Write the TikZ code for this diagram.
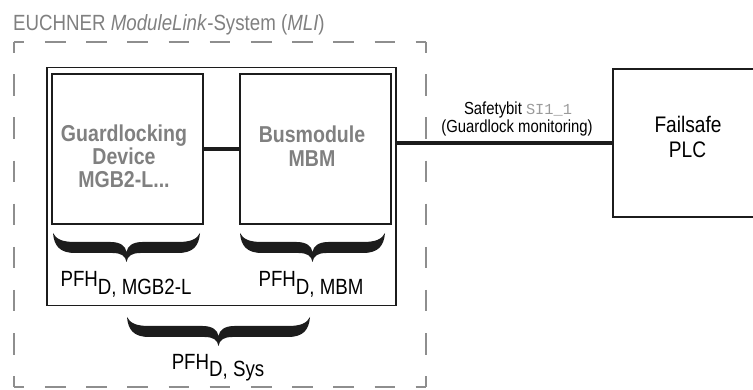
\documentclass[tikz,border=0pt]{standalone}
\usepackage{fontspec}
\setmainfont{Liberation Sans}[FakeStretch=0.85]
\newfontfamily\monof{Liberation Mono}
\usetikzlibrary{calc}
\definecolor{dashgray}{HTML}{8E8E8E}
\definecolor{txtgray}{HTML}{808080}
\definecolor{monogray}{HTML}{9A9A9A}
\definecolor{ink}{HTML}{1C1C1C}
\newcommand\pfhbrace[3]{%
  \pgfmathsetmacro\bm{(#1+#2)/2}%
  \fill[ink] (#1,#3) .. controls (#1+1,#3+13) and (#1+7,#3+20) .. (#1+22,#3+20)
    -- (\bm-14,#3+20) .. controls (\bm-5,#3+20) and (\bm-1,#3+23) .. (\bm,#3+29)
    .. controls (\bm+1,#3+23) and (\bm+5,#3+20) .. (\bm+14,#3+20)
    -- (#2-22,#3+20) .. controls (#2-7,#3+20) and (#2-1,#3+13) .. (#2,#3)
    .. controls (#2-3,#3+6) and (#2-9,#3+9) .. (#2-22,#3+9)
    -- (\bm+16,#3+9) .. controls (\bm+6,#3+9) and (\bm+1,#3+13) .. (\bm,#3+19)
    .. controls (\bm-1,#3+13) and (\bm-6,#3+9) .. (\bm-16,#3+9)
    -- (#1+22,#3+9) .. controls (#1+9,#3+9) and (#1+3,#3+6) .. (#1,#3) -- cycle;}
\begin{document}
\begin{tikzpicture}[x=1pt,y=-1pt,
  boxst/.style={draw=ink, line width=1.4pt, inner sep=0pt},
  conn/.style={draw=ink, line width=3.2pt},
  dside/.style={draw=dashgray, line width=1.5pt},
  lbl/.style={inner sep=0pt, anchor=base}]
\useasboundingbox (0,0) rectangle (753,390);
% title
\node[lbl, anchor=base west, text=txtgray, font=\fontsize{22}{26}\selectfont] (title) at (13,31)
  {EUCHNER \textit{ModuleLink}-System (\textit{MLI})};
% dashed system boundary
\draw[dside, dash pattern=on 20.6pt off 20.6pt, dash phase=10.3pt] (14,42) -- (426,42);
\draw[dside, dash pattern=on 20.6pt off 20.6pt, dash phase=10.3pt] (14,387) -- (426,387);
\draw[dside, dash pattern=on 21.56pt off 21.56pt, dash phase=10.78pt] (14,42) -- (14,387);
\draw[dside, dash pattern=on 21.56pt off 21.56pt, dash phase=10.78pt] (426,42) -- (426,387);
% boxes
\node[boxst, minimum width=349pt, minimum height=238pt] (outer) at (221.5,186.5) {};
\node[boxst, minimum width=151pt, minimum height=150pt] (gd) at (127.5,149) {};
\node[boxst, minimum width=151pt, minimum height=150pt] (bm) at (315.5,149) {};
\node[boxst, minimum width=160pt, minimum height=148pt] (plc) at (693,143) {};
% box texts
\begin{scope}[every node/.style={lbl, text=txtgray, font=\fontsize{23}{26}\bfseries}]
\node (gd1) at (124,141.5) {Guardlocking};
\node (gd2) at (124,164.5) {Device};
\node (gd3) at (124,187.5) {MGB2-L...};
\node (bm1) at (312,143) {Busmodule};
\node (bm2) at (312,166.5) {MBM};
\end{scope}
\node[lbl, font=\fontsize{22.5}{26}\selectfont] (plc1) at (688,133) {Failsafe};
\node[lbl, font=\fontsize{22.5}{26}\selectfont] (plc2) at (687.5,158) {PLC};
% connectors
\draw[conn] (gd.east) -- (bm.west);
\draw[conn] (outer.east |- 0,143) -- (plc.west |- 0,143);
\node[lbl, font=\fontsize{17.5}{20}\selectfont] (sb1) at (518,115)
  {Safetybit {\monof\fontsize{15.3}{18}\selectfont\color{monogray}SI1\_1}};
\node[lbl, font=\fontsize{17.5}{20}\selectfont] (sb2) at (517,133) {(Guardlock monitoring)};
% braces
\pfhbrace{53}{200}{233}
\pfhbrace{240}{385}{233}
\pfhbrace{127}{310}{317}
% PFH labels
\begin{scope}[every node/.style={lbl, font=\fontsize{22}{26}\selectfont}]
\node (p1) at (126,287) {PFH\raisebox{-8pt}{D, MGB2-L}};
\node (p2) at (311,287) {PFH\raisebox{-8pt}{D, MBM}};
\node (p3) at (218,370) {PFH\raisebox{-7pt}{D, Sys}};
\end{scope}
\end{tikzpicture}
\end{document}
